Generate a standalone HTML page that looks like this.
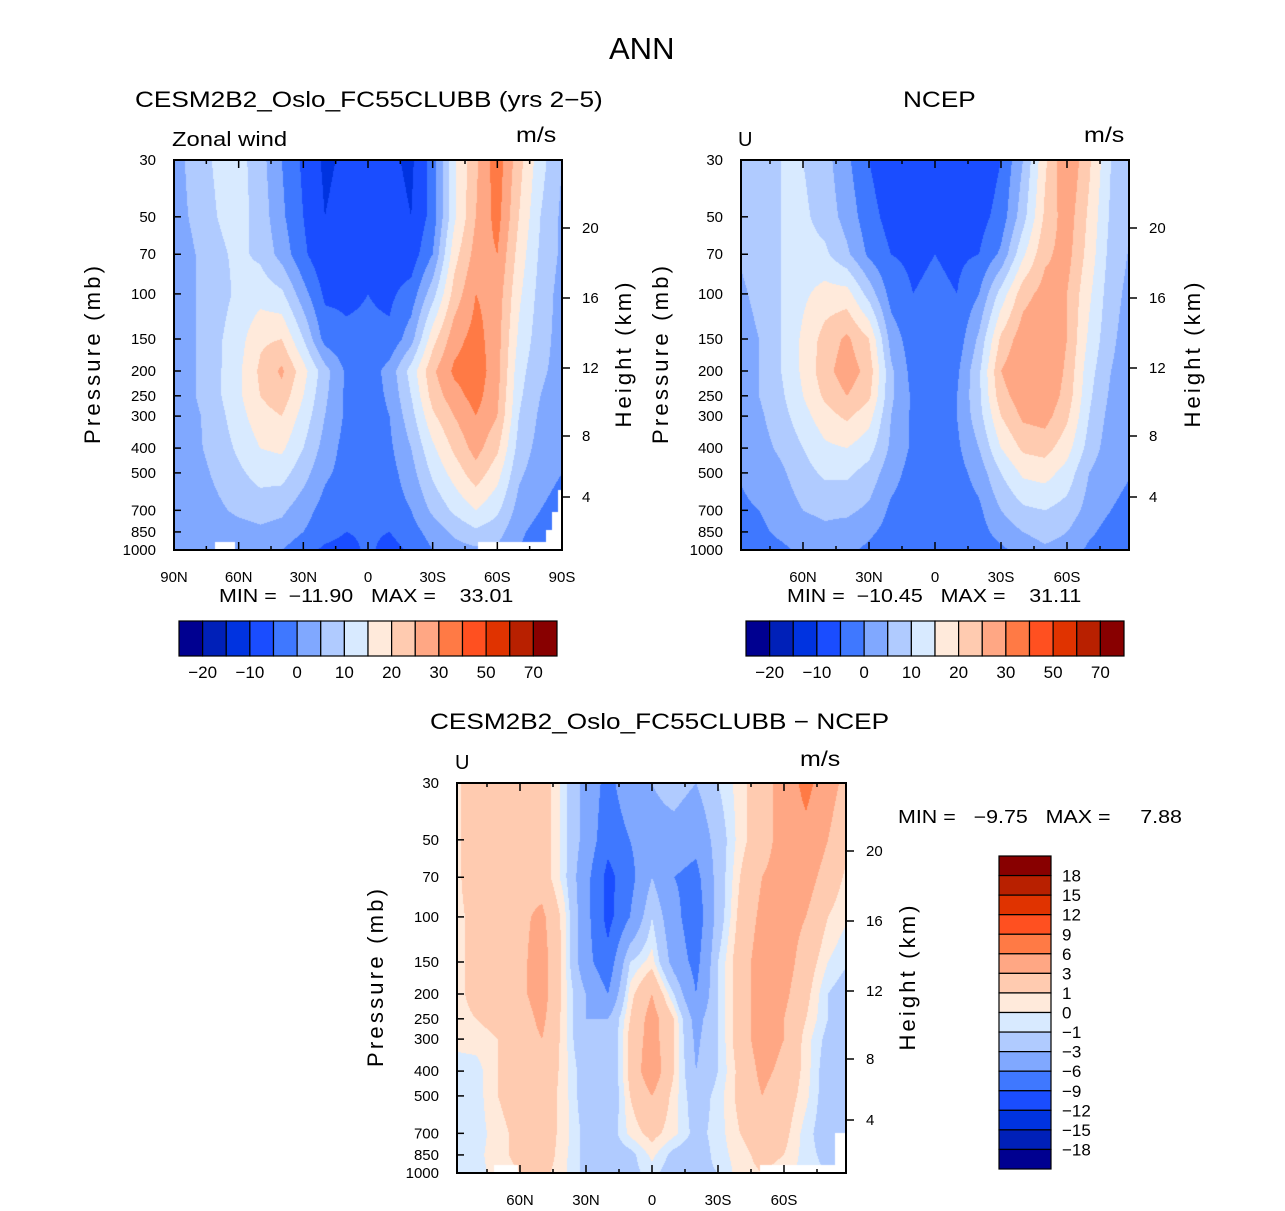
<!DOCTYPE html>
<html><head><meta charset="utf-8">
<style>
body{margin:0;background:#fff;width:1285px;height:1211px;position:relative;overflow:hidden;font-family:"Liberation Sans",sans-serif;color:#000}
.t{position:absolute;white-space:nowrap;line-height:1;transform-origin:0 0}
.w{transform:scaleX(1.19)}
canvas{position:absolute}
svg{position:absolute;left:0;top:0}
</style></head><body>
<div class="t" style="left:609px;top:33px;font-size:31px">ANN</div>
<div class="t w" style="left:135px;top:89px;font-size:22px">CESM2B2_Oslo_FC55CLUBB (yrs 2−5)</div>
<div class="t w" style="left:903px;top:89px;font-size:22px">NCEP</div>
<div class="t w" style="left:172px;top:130px;font-size:20px">Zonal wind</div>
<div class="t w" style="left:516px;top:125px;font-size:21px">m/s</div>
<div class="t" style="left:738px;top:130px;font-size:20px">U</div>
<div class="t w" style="left:1084px;top:125px;font-size:21px">m/s</div>
<div class="t w" style="left:219px;top:587px;font-size:18px">MIN = &nbsp;−11.90 &nbsp; MAX = &nbsp; &nbsp;33.01</div>
<div class="t w" style="left:787px;top:587px;font-size:18px">MIN = &nbsp;−10.45 &nbsp; MAX = &nbsp; &nbsp;31.11</div>
<div class="t w" style="left:430px;top:711px;font-size:22px">CESM2B2_Oslo_FC55CLUBB − NCEP</div>
<div class="t" style="left:455px;top:753px;font-size:20px">U</div>
<div class="t w" style="left:800px;top:749px;font-size:21px">m/s</div>
<div class="t w" style="left:898px;top:808px;font-size:18px">MIN = &nbsp; −9.75 &nbsp; MAX = &nbsp; &nbsp; 7.88</div>
<canvas id="c1" width="388" height="390" style="left:174px;top:160px"></canvas>
<canvas id="c2" width="388" height="390" style="left:741px;top:160px"></canvas>
<canvas id="c3" width="389" height="390" style="left:457px;top:783px"></canvas>
<svg id="ov" width="1285" height="1211"></svg>
<script>
const colors=["#000090","#0020b8","#0033e0","#1a4dff","#3f78ff","#80a8ff","#b0cbff","#d8eaff","#ffeadb","#ffcbb0","#ffa784","#ff7a45","#ff5020","#e03300","#b82000","#880000"];
const levelsU=[-20,-15,-10,-5,0,5,10,15,20,25,30,40,50,60,70];
const levelsD=[-18,-15,-12,-9,-6,-3,-1,0,1,3,6,9,12,15,18];
const lats=[90,80,70,60,50,40,30,20,10,0,-10,-20,-30,-40,-50,-60,-70,-80,-90];
const pres=[30,50,70,100,150,200,250,300,400,500,700,850,1000];
const modelU=[
[3,7,11,12,7,0,-6,-11,-9,-8,-9,-11,-3,14,24,33,22,12,5],
[3,6,10,12,8,1,-5,-10,-8,-7,-8,-10,-3,14,25,32,20,10,4],
[2,5,9,11,9,3,-4,-9,-7,-6,-7,-8,0,18,27,30,18,9,4],
[2,5,8,11,13,11,2,-6,-6,-5,-6,-3,8,22,30,28,16,8,3],
[2,5,9,13,19,20,10,-2,-4,-4,-4,3,18,28,32,27,14,7,3],
[2,5,9,14,21,26,17,7,-1,-3,2,12,24,31,33,27,12,6,3],
[2,5,9,14,20,23,15,6,-1,-3,1,10,22,28,32,26,11,5,2],
[2,4,8,13,18,20,13,5,-1,-3,0,8,19,25,30,25,10,4,2],
[1,4,7,11,15,16,10,3,-2,-3,-1,5,14,21,27,21,8,3,1],
[1,3,6,9,12,12,7,1,-2,-3,-2,3,11,17,23,17,6,2,0],
[0,2,4,6,7,6,2,-2,-4,-4,-3,0,6,11,15,11,3,0,-2],
[0,1,2,3,4,3,0,-3,-5,-4,-5,-2,2,6,9,7,1,-2,-4],
[1,0,1,0,1,0,-3,-6,-7,-4,-7,-4,0,3,4,4,0,-3,-6]];
const ncepU=[
[7,9,10,10,7,1,-5,-9,-8,-7,-8,-9,-5,5,19,30,21,10,5],
[6,8,10,11,8,3,-3,-7,-7,-6,-7,-7,-3,8,21,28,19,9,5],
[5,7,10,12,11,6,-1,-5,-6,-5,-6,-5,1,14,24,27,18,8,4],
[4,6,10,14,17,17,8,-2,-5,-4,-5,0,12,23,27,25,16,7,3],
[3,5,10,16,22,26,20,3,-3,-3,-3,6,21,28,30,25,14,6,2],
[3,5,10,16,23,28,23,6,-2,-3,-1,9,25,30,30,24,12,5,2],
[3,5,9,15,21,25,21,6,-1,-2,0,9,23,28,29,23,11,4,2],
[2,4,8,13,18,21,17,5,-1,-2,0,8,20,26,27,21,10,3,1],
[1,3,6,10,14,15,12,4,-1,-2,-1,5,15,21,22,17,8,2,1],
[0,2,4,8,11,11,8,2,-2,-3,-2,2,10,16,17,13,5,1,0],
[-1,0,2,5,6,6,4,-1,-3,-4,-3,-1,5,9,10,8,3,0,-1],
[-2,-1,1,3,4,3,1,-2,-4,-4,-4,-2,2,5,7,5,1,-2,-2],
[-2,-2,-1,1,2,1,-1,-4,-5,-3,-5,-3,-1,2,4,3,-1,-3,-3]];
const diffU=[
[0.5,2,2,2,2,-0.5,-4,-7,-4,-3,-2,-3,-1,0.5,2,4,7,4,2],
[0.5,2,2,2,2,-0.5,-4,-8,-6,-4,-4,-5,-2,0.5,2,4,5,3,1],
[0.5,2,2,2.5,2,-0.5,-5,-10,-7,-3,-6,-7,-2,1,3,4,4,2,0.5],
[0.5,1.5,2,2.5,3.5,0.5,-5,-10,-6,-1,-5,-8,-2,1.5,3.5,4,3,1,0],
[0.5,1.5,2,2.5,4,0.5,-5,-8,-1,0.5,-4,-7,-1,2,4,4,2,0,-1],
[0.5,1.5,1.5,2.5,4,0.5,-3,-6,0.5,3,-1,-6,-1,2,4,3.5,1.5,-1,-2],
[0.5,1,1.5,2,3.5,0.5,-3,-3,1,4,1,-4,-1,2,4,3,1,-1,-2],
[0.3,0.5,1,2,3,0.5,-3,-3,1.5,4,1,-3.5,-1,2,4,3,0.5,-1.5,-2],
[-0.5,-0.5,1,2,2.5,0.5,-2,-3,1.5,4.5,1,-3,-1,1.5,3.5,2.5,0.5,-2,-2],
[-0.5,-0.5,1,2,2,0.5,-2,-3,1,3,0.5,-2,-0.5,1.5,3,2,0.3,-2,-3],
[-0.5,-0.5,0.5,1.5,2,0.5,-1.5,-2,0.3,1.5,0.3,-1.5,-0.5,1,2,1.5,-0.5,-2,-2],
[-0.5,-0.3,0.5,1.5,2,0.3,-1.5,-2,-1.5,0.3,-1.5,-2,-0.5,0.5,1.5,1,-0.5,-1.5,-1.5],
[-0.5,-0.3,0.3,1,1.5,0.2,-1.5,-1.5,-1.5,-0.5,-2,-1.5,-1,0.5,1,0.5,-0.5,-1,-1]];
const pLabels=[30,50,70,100,150,200,250,300,400,500,700,850,1000];
const hLabels=[20,16,12,8,4];
const cbLabelsU=["−20","−10","0","10","20","30","50","70"];
const cbLabelsD=["18","15","12","9","6","3","1","0","−1","−3","−6","−9","−12","−15","−18"];

const H=390, L=Math.log10(1000/30);
function yOfP(p){return Math.log10(p/30)/L*H;}
function pOfY(y){return 30*Math.pow(10,y/H*L);}
function interp(grid,lat,p){
  let fi=(90-lat)/10; fi=Math.max(0,Math.min(18,fi));
  const lp=Math.log(p); let fj=0;
  for(let j=0;j<pres.length-1;j++){const a=Math.log(pres[j]),b=Math.log(pres[j+1]);
    if(lp>=a&&lp<=b){fj=j+(lp-a)/(b-a);break;} if(lp>b) fj=j+1;}
  const i0=Math.min(17,Math.floor(fi)),j0=Math.min(11,Math.floor(fj));const tx=fi-i0,ty=fj-j0;
  const v00=grid[j0][i0],v01=grid[j0][i0+1],v10=grid[j0+1][i0],v11=grid[j0+1][i0+1];
  return (v00*(1-tx)+v01*tx)*(1-ty)+(v10*(1-tx)+v11*tx)*ty;
}
function cls(v,lev){let k=0;while(k<lev.length&&v>=lev[k])k++;return k;}
function hex(c){return [parseInt(c.substr(1,2),16),parseInt(c.substr(3,2),16),parseInt(c.substr(5,2),16)];}
const rgb=colors.map(hex);
function fill(id,grid,lev,latOfX){
  const cv=document.getElementById(id),ctx=cv.getContext('2d');const W=cv.width;
  const img=ctx.createImageData(W,H);
  for(let y=0;y<H;y++){const p=pOfY(y+0.5);
    for(let x=0;x<W;x++){const lat=latOfX(x+0.5);const c=rgb[cls(interp(grid,lat,p),lev)];
      const o=(y*W+x)*4;img.data[o]=c[0];img.data[o+1]=c[1];img.data[o+2]=c[2];img.data[o+3]=255;}}
  ctx.putImageData(img,0,0);return ctx;
}
const ctx1=fill('c1',modelU,levelsU,x=>90-x/388*180);
ctx1.fillStyle='#fff';ctx1.fillRect(41,382,20,8);ctx1.fillRect(304,382,84,8);
ctx1.fillRect(384,330,4,60);ctx1.fillRect(378,352,10,38);ctx1.fillRect(372,370,16,20);
fill('c2',ncepU,levelsU,x=>Math.max(-90,Math.min(90,(194-x)/2.2)));
const ctx3=fill('c3',diffU,levelsD,x=>Math.max(-90,Math.min(90,(195-x)/2.2)));
ctx3.fillStyle='#fff';ctx3.fillRect(37,382,24,8);ctx3.fillRect(303,382,75,8);ctx3.fillRect(378,350,11,40);

const svg=document.getElementById('ov');const NS='http://www.w3.org/2000/svg';
function el(tag,attrs,name,text){const e=document.createElementNS(NS,tag);for(const k in attrs)e.setAttribute(k,attrs[k]);
  
  
  if(text!==undefined)e.textContent=text;svg.appendChild(e);return e;}
function panel(px,py,W,xOfLat,latTicks,latLabels,pfx,plx,hx){
  el('rect',{x:px,y:py,width:W,height:H,fill:'none',stroke:'#000','stroke-width':2},pfx+'-frame');
  for(let lat=-90;lat<=90;lat+=15){const x=px+xOfLat(lat);if(x<px-0.5||x>px+W+0.5)continue;
    const len=lat%30===0?8:4;
    el('line',{x1:x,y1:py+H,x2:x,y2:py+H-len,stroke:'#000','stroke-width':1.5},pfx+'-x-tick');
    el('line',{x1:x,y1:py,x2:x,y2:py+len,stroke:'#000','stroke-width':1.5},pfx+'-x-tick-top');}
  latTicks.forEach((lat,i)=>{el('text',{x:px+xOfLat(lat),y:py+H+32,'text-anchor':'middle','font-size':15,'font-family':'Liberation Sans'},pfx+'-x-tick-label',latLabels[i]);});
  pLabels.forEach(p=>{const y=py+yOfP(p);
    el('line',{x1:px,y1:y,x2:px+7,y2:y,stroke:'#000','stroke-width':1.5},pfx+'-y-tick');
    el('text',{x:px-18,y:y+5,'text-anchor':'end','font-size':15,'font-family':'Liberation Sans'},pfx+'-y-tick-label',String(p));});
  const hOff=[68,138,208,276,337];
  hLabels.forEach((h,i)=>{const y=py+hOff[i];
    el('line',{x1:px+W,y1:y,x2:px+W+8,y2:y,stroke:'#000','stroke-width':1.5},pfx+'-height-tick');
    el('text',{x:px+W+20,y:y+5,'font-size':15,'font-family':'Liberation Sans'},pfx+'-height-tick-label',String(h));});
  el('text',{x:plx,y:py+195,'text-anchor':'middle','font-size':22,'font-family':'Liberation Sans',textLength:178,transform:`rotate(-90 ${plx} ${py+195})`},pfx+'-pressure-axis-title','Pressure (mb)');
  el('text',{x:hx,y:py+195,'text-anchor':'middle','font-size':22,'font-family':'Liberation Sans',textLength:145,transform:`rotate(-90 ${hx} ${py+195})`},pfx+'-height-axis-title','Height (km)');
}
panel(174,160,388,lat=>(90-lat)/180*388,[90,60,30,0,-30,-60,-90],["90N","60N","30N","0","30S","60S","90S"],'model',100,631);
panel(741,160,388,lat=>194-lat*2.2,[60,30,0,-30,-60],["60N","30N","0","30S","60S"],'ncep',668,1200);
panel(457,783,389,lat=>195-lat*2.2,[60,30,0,-30,-60],["60N","30N","0","30S","60S"],'diff',383,915);
function hbar(x0,y0,pfx){const w=378/16;
  colors.forEach((c,i)=>el('rect',{x:x0+i*w,y:y0,width:w,height:35,fill:c,stroke:'#000','stroke-width':1.2},pfx+'-colorbar-box'));
  cbLabelsU.forEach((t,i)=>el('text',{x:x0+(2*i+1)*w,y:y0+57,'text-anchor':'middle','font-size':17,'font-family':'Liberation Sans'},pfx+'-colorbar-label',t));}
hbar(179,621,'model');hbar(746,621,'ncep');
const bh=313/16;
colors.slice().reverse().forEach((c,i)=>el('rect',{x:999,y:856+i*bh,width:52,height:bh,fill:c,stroke:'#000','stroke-width':1.2},'diff-colorbar-box'));
cbLabelsD.forEach((t,i)=>el('text',{x:1062,y:856+(i+1)*bh+6,'font-size':17,'font-family':'Liberation Sans'},'diff-colorbar-label',t));
</script>
</body></html>
